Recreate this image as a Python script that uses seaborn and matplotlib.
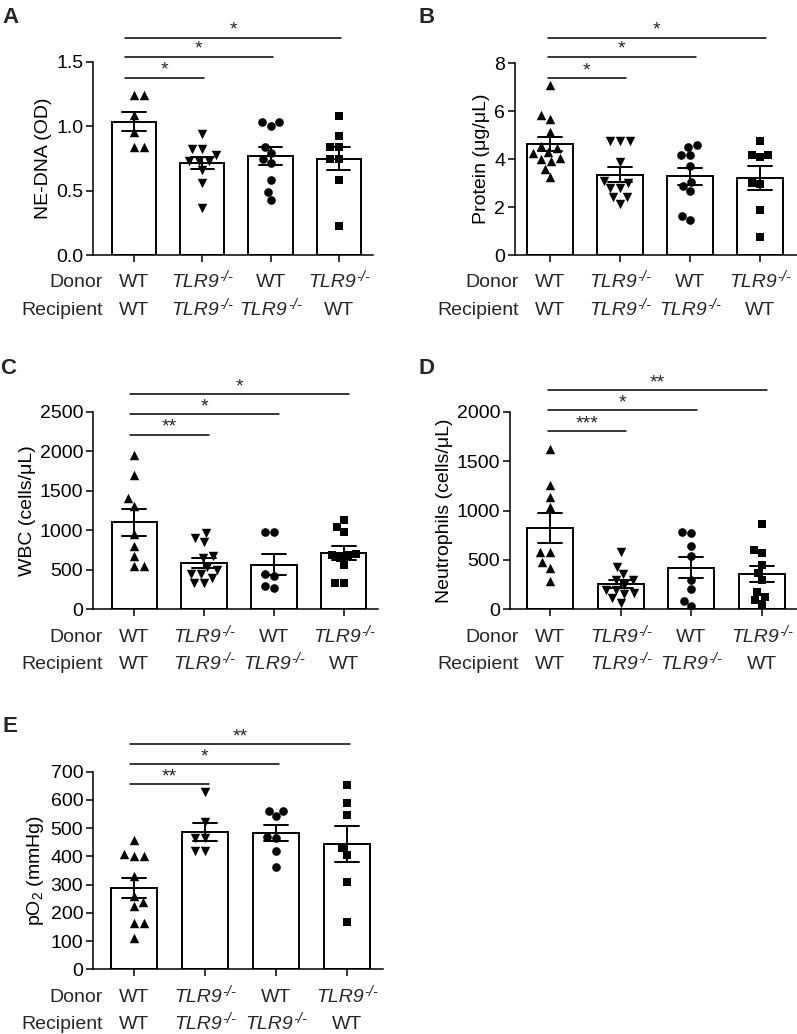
import numpy as np
import pandas as pd
import matplotlib
matplotlib.use("Agg")
import matplotlib.pyplot as plt
import seaborn as sns

# ---------------- data ----------------
groups = ["WT>WT", "KO>KO", "WT>KO", "KO>WT"]
donor_labels = ["WT", "TLR9", "WT", "TLR9"]
recipient_labels = ["WT", "TLR9", "TLR9", "WT"]
ko_superscript = "-/-"

nedna_wt_wt = [1.243, 1.243, 1.088, 0.958, 0.842, 0.842]
nedna_ko_ko = [0.94, 0.824, 0.824, 0.78, 0.73, 0.73, 0.73, 0.66, 0.562, 0.368]
nedna_wt_ko = [1.031, 1.031, 1.003, 0.842, 0.79, 0.75, 0.718, 0.583, 0.492, 0.427]
nedna_ko_wt = [1.08, 0.927, 0.842, 0.842, 0.744, 0.744, 0.583, 0.228]

protein_wt_wt = [7.08, 5.84, 5.66, 5.13, 4.54, 4.45, 4.29, 4.23, 4.05, 4.0, 3.91, 3.59, 3.25]
protein_ko_ko = [4.75, 4.75, 4.75, 3.88, 3.1, 3.0, 2.8, 2.79, 2.42, 2.42, 2.14]
protein_wt_ko = [4.58, 4.5, 4.15, 4.15, 3.7, 3.03, 2.86, 2.65, 1.63, 1.47]
protein_ko_wt = [4.75, 4.1, 4.15, 4.15, 3.0, 2.95, 1.86, 0.73]

wbc_wt_wt = [1952, 1699, 1404, 1307, 953, 801, 679, 552, 552]
wbc_ko_ko = [965, 898, 847, 680, 650, 540, 500, 443, 443, 400, 329, 329]
wbc_wt_ko = [982, 982, 450, 420, 290, 270]
wbc_ko_wt = [1130, 1045, 982, 700, 687, 687, 650, 561, 329, 329]

neut_wt_wt = [1622, 1258, 1140, 1038, 577, 577, 475, 421, 287]
neut_ko_ko = [577, 430, 360, 300, 300, 250, 200, 200, 170, 150, 110, 60]
neut_wt_ko = [786, 769, 644, 540, 297, 206, 84, 37]
neut_ko_wt = [860, 600, 566, 448, 371, 297, 172, 128, 94, 51]

po2_wt_wt = [458, 407, 403, 403, 331, 260, 240, 224, 163, 163, 112]
po2_ko_ko = [629, 523, 466, 466, 419, 419]
po2_wt_ko = [561, 561, 543, 470, 466, 420, 361]
po2_ko_wt = [653, 588, 545, 429, 405, 311, 169]

nedna_sig_y = [1.378, 1.539, 1.687]
protein_sig_y = [7.37, 8.27, 9.06]
wbc_sig_y = [2209, 2470, 2719]
neut_sig_y = [1804, 2016, 2219]
po2_sig_y = [655, 727, 798]

nedna_sig = ["*", "*", "*"]
protein_sig = ["*", "*", "*"]
wbc_sig = ["**", "*", "*"]
neut_sig = ["***", "*", "**"]
po2_sig = ["**", "*", "**"]

# ---------------- style ----------------
sns.set_theme(style="ticks")
plt.rcParams["font.family"] = ["Liberation Sans", "DejaVu Sans"]
plt.rcParams["mathtext.fontset"] = "custom"
plt.rcParams["mathtext.rm"] = "Liberation Sans"
plt.rcParams["mathtext.it"] = "Liberation Sans:italic"
plt.rcParams["mathtext.bf"] = "Liberation Sans:bold"

FS = 14
SUPFS = 10.5
W, H = 797, 1034
fig = plt.figure(figsize=(W / 100, H / 100), dpi=100)
renderer = fig.canvas.get_renderer()

markers = ["^", "v", "o", "s"]
msizes = [6.8, 6.8, 6.2, 5.8]


def px2pt(p):
    return p * 0.72


def width_pt(s, **kw):
    t = fig.text(0, 0, s, **kw)
    w = t.get_window_extent(renderer).width
    t.remove()
    return w * 72 / fig.dpi


W_MAIN = width_pt("TLR9", fontsize=FS, fontstyle="italic")
W_SUP = width_pt(ko_superscript, fontsize=SUPFS, fontstyle="italic")


def put_label(ax, i, lab, ypt):
    if lab == "WT":
        ax.annotate(lab, xy=(i, 0), xycoords=("data", "axes fraction"),
                    xytext=(0, ypt), textcoords="offset points",
                    ha="center", va="baseline", fontsize=FS)
    else:
        total = W_MAIN + W_SUP
        ax.annotate(lab, xy=(i, 0), xycoords=("data", "axes fraction"),
                    xytext=(-total / 2, ypt), textcoords="offset points",
                    ha="left", va="baseline", fontsize=FS, fontstyle="italic")
        ax.annotate(ko_superscript, xy=(i, 0), xycoords=("data", "axes fraction"),
                    xytext=(-total / 2 + W_MAIN + 0.3, ypt + 4.2),
                    textcoords="offset points",
                    ha="left", va="baseline", fontsize=SUPFS, fontstyle="italic")


panels = [
    dict(data=[nedna_wt_wt, nedna_ko_ko, nedna_wt_ko, nedna_ko_wt],
         ylabel="NE-DNA (OD)", yticks=[0, 0.5, 1.0, 1.5],
         yticklabels=["0.0", "0.5", "1.0", "1.5"],
         rect=(93, 373, 62, 255), xlim=(-0.6, 3.5),
         sig_y=nedna_sig_y, sig=nedna_sig, sig_x=(-0.13, 0.03),
         letter="A", letter_xy=(2, 23)),
    dict(data=[protein_wt_wt, protein_ko_ko, protein_wt_ko, protein_ko_wt],
         ylabel="Protein (μg/μL)", yticks=[0, 2, 4, 6, 8],
         yticklabels=["0", "2", "4", "6", "8"],
         rect=(515, 797, 63, 255), xlim=(-0.5, 3.53),
         sig_y=protein_sig_y, sig=protein_sig, sig_x=(-0.03, 0.085),
         letter="B", letter_xy=(418, 23)),
    dict(data=[wbc_wt_wt, wbc_ko_ko, wbc_wt_ko, wbc_ko_wt],
         ylabel="WBC (cells/μL)", yticks=[0, 500, 1000, 1500, 2000, 2500],
         yticklabels=["0", "500", "1000", "1500", "2000", "2500"],
         rect=(93, 378, 411.7, 609.3), xlim=(-0.59, 3.49),
         sig_y=wbc_sig_y, sig=wbc_sig, sig_x=(-0.06, 0.07),
         letter="C", letter_xy=(0, 374)),
    dict(data=[neut_wt_wt, neut_ko_ko, neut_wt_ko, neut_ko_wt],
         ylabel="Neutrophils (cells/μL)", yticks=[0, 500, 1000, 1500, 2000],
         yticklabels=["0", "500", "1000", "1500", "2000"],
         rect=(510, 797, 411.7, 609.3), xlim=(-0.57, 3.5),
         sig_y=neut_sig_y, sig=neut_sig, sig_x=(-0.03, 0.08),
         letter="D", letter_xy=(418, 374)),
    dict(data=[po2_wt_wt, po2_ko_ko, po2_wt_ko, po2_ko_wt],
         ylabel=r"pO$_\mathregular{2}$ (mmHg)",
         yticks=[0, 100, 200, 300, 400, 500, 600, 700],
         yticklabels=["0", "100", "200", "300", "400", "500", "600", "700"],
         rect=(93, 383, 771.7, 969.3), xlim=(-0.58, 3.51),
         sig_y=po2_sig_y, sig=po2_sig, sig_x=(-0.06, 0.05),
         letter="E", letter_xy=(2, 731.7)),
]

for p in panels:
    l, r, t, b = p["rect"]
    ax = fig.add_axes([l / W, 1 - b / H, (r - l) / W, (b - t) / H])
    rows = []
    for g, vals in zip(groups, p["data"]):
        for v in vals:
            rows.append((g, v))
    df = pd.DataFrame(rows, columns=["group", "value"])

    sns.barplot(data=df, x="group", y="value", order=groups, errorbar="se",
                capsize=0.34, width=0.65, color="white", saturation=1,
                edgecolor="black", linewidth=1.4,
                err_kws={"color": "black", "linewidth": 1.4}, ax=ax)
    for g, m, s in zip(groups, markers, msizes):
        sns.swarmplot(data=df[df["group"] == g], x="group", y="value",
                      order=groups, marker=m, color="black", size=s,
                      linewidth=0, ax=ax)

    ax.set_ylim(0, p["yticks"][-1])
    ax.set_xlim(*p["xlim"])
    ax.set_yticks(p["yticks"])
    ax.set_yticklabels(p["yticklabels"], fontsize=FS)
    ax.set_xticks(range(4))
    ax.set_xticklabels([])
    ax.set_xlabel("")
    ax.set_ylabel(p["ylabel"], fontsize=FS, labelpad=3, color="black")
    ax.tick_params(axis="both", length=5, width=1.1, colors="black",
                   labelcolor="black", pad=2)
    sns.despine(ax=ax)
    for sp in ["left", "bottom"]:
        ax.spines[sp].set_linewidth(1.1)
        ax.spines[sp].set_color("black")

    # donor / recipient rows
    for i in range(4):
        put_label(ax, i, donor_labels[i], -px2pt(32.3))
        put_label(ax, i, recipient_labels[i], -px2pt(60))
    ax.annotate("Donor", xy=(0, 0), xycoords=("data", "axes fraction"),
                xytext=(-px2pt(31), -px2pt(32.3)), textcoords="offset points",
                ha="right", va="baseline", fontsize=FS)
    ax.annotate("Recipient", xy=(0, 0), xycoords=("data", "axes fraction"),
                xytext=(-px2pt(31), -px2pt(60)), textcoords="offset points",
                ha="right", va="baseline", fontsize=FS)

    # significance bars
    x0off, x1off = p["sig_x"]
    for k, (yy, lab) in enumerate(zip(p["sig_y"], p["sig"])):
        x0 = 0 + x0off
        x1 = (k + 1) + x1off
        ax.plot([x0, x1], [yy, yy], color="black", lw=1.1, clip_on=False)
        ax.annotate(lab, xy=((x0 + x1) / 2, yy), xycoords="data",
                    xytext=(0, 2.2), textcoords="offset points",
                    ha="center", va="baseline", fontsize=FS,
                    annotation_clip=False)

    lx, ly = p["letter_xy"]
    fig.text(lx / W, 1 - ly / H, p["letter"], ha="left", va="baseline",
             fontsize=16, fontweight="bold")

fig.savefig("out.png", dpi=100, facecolor="white")
